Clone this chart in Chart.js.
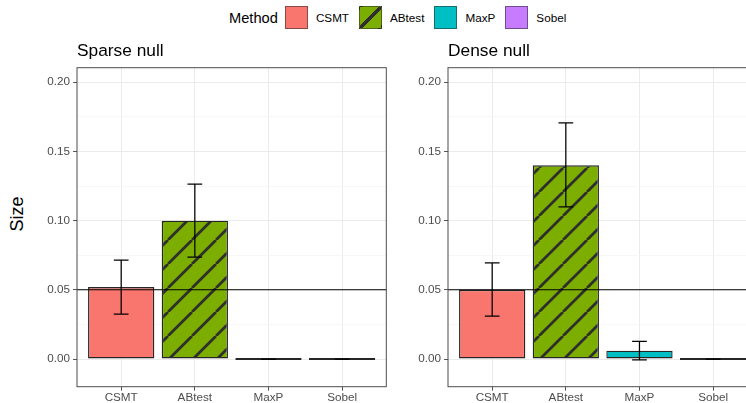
<!DOCTYPE html>
<html>
<head>
<meta charset="utf-8">
<script src="https://cdn.jsdelivr.net/npm/chart.js@4.4.1/dist/chart.umd.min.js"></script>
<style>
  html, body { margin: 0; padding: 0; }
  body { width: 746px; height: 403px; overflow: hidden; position: relative; background: #ffffff;
         font-family: "Liberation Sans", Arial, Helvetica, sans-serif; }
  .panel { position: absolute; top: 0; width: 392px; height: 403px; }
  #legend { position: absolute; top: 6px; left: 229px; height: 23px; display: flex; align-items: center; white-space: nowrap; }
  #legend .ttl { font-size: 14.67px; color: #000; margin-right: 7px; }
  #legend .key { width: 23px; height: 23px; box-sizing: border-box; border: 1px solid rgba(40,40,40,0.55); }
  #legend .lab { font-size: 11.7px; color: #000; margin-left: 8px; margin-right: 10px; }
  #ylab { position: absolute; left: 17px; top: 213.5px; transform: translate(-50%, -50%) rotate(-90deg);
          font-size: 18px; color: #000; white-space: nowrap; }
</style>
</head>
<body>
<div id="legend"></div>
<div id="ylab">Size</div>
<div class="panel" style="left:0px"><canvas id="c1" width="392" height="403"></canvas></div>
<div class="panel" style="left:371px"><canvas id="c2" width="392" height="403"></canvas></div>
<script>
// ---------------- data ----------------
const legendTitle = 'Method';
const categories = ['CSMT', 'ABtest', 'MaxP', 'Sobel'];
const panelTitles = ['Sparse null', 'Dense null'];

const sparseSize  = [0.052, 0.100, 0, 0];
const sparseLower = [0.0325, 0.0737, 0, 0];
const sparseUpper = [0.0715, 0.1264, 0, 0];

const denseSize  = [0.050, 0.140, 0.006, 0];
const denseLower = [0.031, 0.110, -0.0007, 0];
const denseUpper = [0.0694, 0.1707, 0.0128, 0];

const yMajorTicks = [0, 0.05, 0.10, 0.15, 0.20];
const yMinorTicks = [0.025, 0.075, 0.125, 0.175];
const referenceLine = 0.05;

// ---------------- styles ----------------
const fillColors = ['#F8766D', '#7CAE00', '#00BFC4', '#C77CFF'];
const hatchedIndex = 1;
const FONT = '"Liberation Sans", Arial, Helvetica, sans-serif';

function makeHatch(base) {
  const s = 24;
  const c = document.createElement('canvas');
  c.width = s; c.height = s;
  const g = c.getContext('2d');
  g.fillStyle = base; g.fillRect(0, 0, s, s);
  g.strokeStyle = '#2e2e2e'; g.lineWidth = 2.7; g.lineCap = 'butt';
  for (const x0 of [-s, 0, s]) {
    g.beginPath(); g.moveTo(x0, s); g.lineTo(x0 + s, 0); g.stroke();
  }
  return g.createPattern(c, 'repeat');
}

// ---------------- legend (HTML) ----------------
(function buildLegend() {
  const L = document.getElementById('legend');
  const t = document.createElement('span'); t.className = 'ttl'; t.textContent = legendTitle; L.appendChild(t);
  categories.forEach((cat, i) => {
    const k = document.createElement('span'); k.className = 'key';
    if (i === hatchedIndex) {
      k.style.background = 'linear-gradient(to bottom right, transparent calc(50% - 1.5px), #2e2e2e calc(50% - 1.5px), #2e2e2e calc(50% + 1.5px), transparent calc(50% + 1.5px)), ' + fillColors[i];
    } else {
      k.style.background = fillColors[i];
    }
    L.appendChild(k);
    const l = document.createElement('span'); l.className = 'lab'; l.textContent = cat; L.appendChild(l);
  });
})();

// ---------------- charts ----------------
const allYTicks = yMajorTicks.concat(yMinorTicks).sort((a, b) => a - b);
const isMajor = v => yMajorTicks.some(m => Math.abs(m - v) < 1e-9);

const panelPlugin = {
  id: 'panelDecor',
  afterDatasetsDraw(chart, args, opts) {
    const { ctx, chartArea: a, scales: { x, y } } = chart;
    ctx.save();
    // reference line
    const yr = y.getPixelForValue(referenceLine);
    ctx.strokeStyle = '#000'; ctx.lineWidth = 1.1;
    ctx.beginPath(); ctx.moveTo(a.left, yr); ctx.lineTo(a.right, yr); ctx.stroke();
    // error bars
    ctx.lineWidth = 1.25; ctx.strokeStyle = '#000';
    opts.lower.forEach((lo, i) => {
      const hi = opts.upper[i];
      const xc = x.getPixelForValue(i + 1);
      const xl = x.getPixelForValue(i + 1 - 0.1), xr = x.getPixelForValue(i + 1 + 0.1);
      const yl = y.getPixelForValue(lo), yh = y.getPixelForValue(hi);
      ctx.beginPath();
      ctx.moveTo(xc, yl); ctx.lineTo(xc, yh);
      ctx.moveTo(xl, yl); ctx.lineTo(xr, yl);
      ctx.moveTo(xl, yh); ctx.lineTo(xr, yh);
      ctx.stroke();
    });
    // panel border
    ctx.strokeStyle = '#4d4d4d'; ctx.lineWidth = 1;
    ctx.strokeRect(a.left, a.top, a.right - a.left, a.bottom - a.top);
    ctx.restore();
  },
  afterDraw(chart, args, opts) {
    const { ctx, chartArea: a } = chart;
    ctx.save();
    ctx.font = '17.33px ' + FONT;
    ctx.fillStyle = '#000'; ctx.textAlign = 'left'; ctx.textBaseline = 'alphabetic';
    ctx.fillText(opts.title, a.left, 55.5);
    ctx.restore();
  }
};

function makePanel(id, title, sizes, lower, upper) {
  const hatch = makeHatch(fillColors[hatchedIndex]);
  const bg = fillColors.map((c, i) => i === hatchedIndex ? hatch : c);
  return new Chart(document.getElementById(id), {
    type: 'bar',
    data: {
      datasets: [{
        data: categories.map((c, i) => ({ x: i + 1, y: sizes[i] })),
        backgroundColor: bg,
        borderColor: '#262626',
        borderWidth: 1.4,
        borderSkipped: false,
        barPercentage: 0.9,
        categoryPercentage: 1.0,
        minBarLength: 2
      }]
    },
    options: {
      responsive: false,
      animation: false,
      devicePixelRatio: 1,
      layout: { padding: { top: 67.7, right: 5.7, left: 0, bottom: 0 } },
      plugins: {
        legend: { display: false },
        title: { display: false },
        tooltip: { enabled: false },
        panelDecor: { title: title, lower: lower, upper: upper }
      },
      scales: {
        x: {
          type: 'linear', min: 0.4, max: 4.6, offset: false,
          afterBuildTicks: s => { s.ticks = categories.map((c, i) => ({ value: i + 1 })); },
          afterFit: s => { s.height = 16.3; },
          ticks: {
            autoSkip: false, maxRotation: 0, padding: 0,
            color: '#4D4D4D', font: { family: FONT, size: 11.7 },
            callback: (v, i) => categories[i]
          },
          grid: { offset: false, color: '#EBEBEB', lineWidth: 1, drawTicks: true, tickLength: 4, tickColor: '#555555', tickWidth: 1 },
          border: { display: false }
        },
        y: {
          type: 'linear', min: -0.02, max: 0.2105,
          afterBuildTicks: s => { s.ticks = allYTicks.map(v => ({ value: v })); },
          afterFit: s => { s.width = 77; },
          ticks: {
            autoSkip: false, padding: 3,
            color: '#4D4D4D', font: { family: FONT, size: 11.7 },
            callback: v => isMajor(v) ? v.toFixed(2) : ''
          },
          grid: {
            color: c => isMajor(c.tick.value) ? '#EBEBEB' : '#F5F5F5',
            lineWidth: c => isMajor(c.tick.value) ? 1 : 0.8,
            drawTicks: true, tickLength: 4,
            tickColor: c => isMajor(c.tick.value) ? '#555555' : 'rgba(0,0,0,0)',
            tickWidth: 1
          },
          border: { display: false }
        }
      }
    },
    plugins: [panelPlugin]
  });
}

makePanel('c1', panelTitles[0], sparseSize, sparseLower, sparseUpper);
makePanel('c2', panelTitles[1], denseSize, denseLower, denseUpper);
</script>
</body>
</html>
